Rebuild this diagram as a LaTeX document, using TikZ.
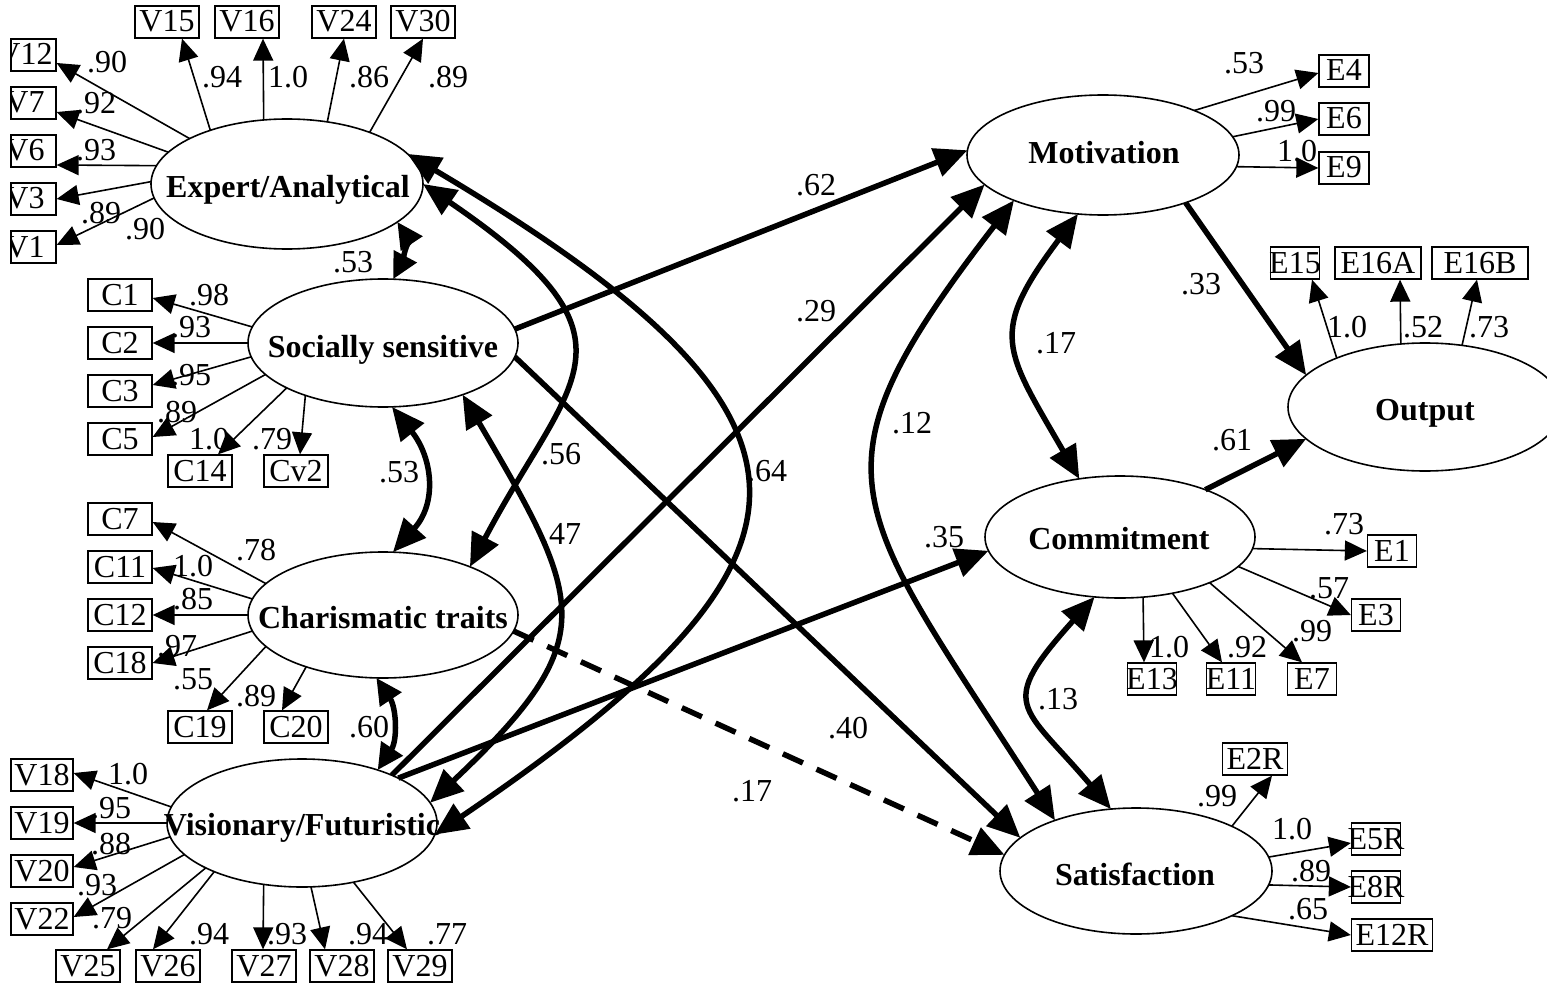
\documentclass[tikz,border=0pt]{standalone}
\usepackage{fontspec}
\setmainfont{Liberation Serif}
\usetikzlibrary{arrows.meta,shapes.geometric}
\newcommand\bx[1]{\makebox[0pt]{#1}}
\begin{document}
\begin{tikzpicture}[x=1pt,y=-1pt,
  font=\fontsize{32}{38}\selectfont,
  latent/.style={ellipse,draw,line width=1.6pt,inner sep=0pt,outer sep=0pt},
  lattxt/.style={font=\fontsize{32}{38}\selectfont\bfseries,inner sep=0pt,anchor=base},
  obs/.style={draw,line width=1.3pt,minimum width=64pt,minimum height=32pt,inner sep=0pt,text height=22pt,text depth=2pt},
  eobs/.style={obs,minimum width=49pt},
  coef/.style={inner sep=0pt},
  load/.style={line width=1.6pt,-{Triangle[length=22pt,width=20pt]}},
  regr/.style={line width=5.5pt,-{Triangle[length=33pt,width=29pt]}},
  covr/.style={line width=5.5pt,{Triangle[length=33pt,width=29pt]}-{Triangle[length=33pt,width=29pt]}},
  covs/.style={line width=5.5pt,{Triangle[length=26pt,width=25pt]}-{Triangle[length=26pt,width=25pt]}},
]
\useasboundingbox (0,0) rectangle (1547,987);

% ---------- latent variables ----------
\node[latent,minimum width=272pt,minimum height=130pt] (ea) at (287,184) {};
\node[lattxt] (eat) at (288,197) {Expert/Analytical};
\node[latent,minimum width=270pt,minimum height=128pt] (ss) at (383,343) {};
\node[lattxt] (sst) at (383,357) {Socially sensitive};
\node[latent,minimum width=270pt,minimum height=126pt] (ct) at (383,615) {};
\node[lattxt] (ctt) at (383,628) {Charismatic traits};
\node[latent,minimum width=270pt,minimum height=128pt] (vf) at (302,823) {};
\node[lattxt] (vft) at (302,835) {Visionary/Futuristic};
\node[latent,minimum width=272pt,minimum height=120pt] (mo) at (1103,155) {};
\node[lattxt] (mot) at (1104,164) {Motivation};
\node[latent,minimum width=270pt,minimum height=122pt] (co) at (1120,537) {};
\node[lattxt] (cot) at (1119,549) {Commitment};
\node[latent,minimum width=272pt,minimum height=126pt] (sa) at (1136,871) {};
\node[lattxt] (sat) at (1135,885) {Satisfaction};
\node[latent,minimum width=274pt,minimum height=128pt] (ou) at (1425,407) {};
\node[lattxt] (out) at (1425,420) {Output};

% ---------- observed: Expert ----------
\node[obs] (v15) at (167,22) {\bx{V15}};
\node[obs] (v16) at (247,22) {\bx{V16}};
\node[obs] (v24) at (344,22) {\bx{V24}};
\node[obs] (v30) at (423,22) {\bx{V30}};
\node[obs,minimum width=62pt] (v12) at (25,55) {\bx{V12}};
\node[obs,minimum width=62pt] (v7) at (25,103) {\bx{V7}};
\node[obs,minimum width=62pt] (v6) at (25,151) {\bx{V6}};
\node[obs,minimum width=62pt] (v3) at (25,199) {\bx{V3}};
\node[obs,minimum width=62pt] (v1) at (25,247) {\bx{V1}};
% ---------- observed: Socially ----------
\node[obs] (c1) at (120,295) {\bx{C1}};
\node[obs] (c2) at (120,343) {\bx{C2}};
\node[obs] (c3) at (120,391) {\bx{C3}};
\node[obs] (c5) at (120,439) {\bx{C5}};
\node[obs] (c14) at (200,471) {\bx{C14}};
\node[obs] (cv2) at (296,471) {\bx{Cv2}};
% ---------- observed: Charismatic ----------
\node[obs] (c7) at (120,519) {\bx{C7}};
\node[obs] (c11) at (120,567) {\bx{C11}};
\node[obs] (c12) at (120,615) {\bx{C12}};
\node[obs] (c18) at (120,663) {\bx{C18}};
\node[obs] (c19) at (200,727) {\bx{C19}};
\node[obs] (c20) at (296,727) {\bx{C20}};
% ---------- observed: Visionary ----------
\node[obs,minimum width=62pt] (v18) at (42,775) {\bx{V18}};
\node[obs,minimum width=62pt] (v19) at (42,823) {\bx{V19}};
\node[obs,minimum width=62pt] (v20) at (42,871) {\bx{V20}};
\node[obs,minimum width=62pt] (v22) at (42,919) {\bx{V22}};
\node[obs] (v25) at (88,966) {\bx{V25}};
\node[obs] (v26) at (168,966) {\bx{V26}};
\node[obs] (v27) at (264,966) {\bx{V27}};
\node[obs] (v28) at (342,966) {\bx{V28}};
\node[obs] (v29) at (420,966) {\bx{V29}};
% ---------- observed: outcomes ----------
\node[eobs,minimum width=50pt] (e4) at (1344,71) {\bx{E4}};
\node[eobs,minimum width=50pt] (e6) at (1344,119) {\bx{E6}};
\node[eobs,minimum width=50pt] (e9) at (1344,168) {\bx{E9}};
\node[eobs] (e15) at (1295,263) {\bx{E15}};
\node[eobs,minimum width=86pt] (e16a) at (1378,263) {\bx{E16A}};
\node[eobs,minimum width=96pt] (e16b) at (1480,263) {\bx{E16B}};
\node[eobs] (e1) at (1392,551) {\bx{E1}};
\node[eobs] (e3) at (1376,615) {\bx{E3}};
\node[eobs] (e13) at (1152,679) {\bx{E13}};
\node[eobs] (e11) at (1231,679) {\bx{E11}};
\node[eobs] (e7) at (1312,679) {\bx{E7}};
\node[eobs,minimum width=65pt] (e2r) at (1255,759) {\bx{E2R}};
\node[eobs] (e5r) at (1376,839) {\bx{E5R}};
\node[eobs] (e8r) at (1376,887) {\bx{E8R}};
\node[eobs,minimum width=81pt] (e12r) at (1392,935) {\bx{E12R}};

% ---------- loadings ----------
\draw[load] (ea.155) -- ([yshift=-8pt]v12.east);
\draw[load] (ea.165) -- ([yshift=-9pt]v7.east);
\draw[load] (ea.172.8) -- ([yshift=-14pt]v6.east);
\draw[load] (ea.179.6) -- (v3.east);
\draw[load] (ea.186.3) -- ([yshift=2pt]v1.east);
\draw[load] (ea.145.6) -- ([xshift=15pt]v15.south);
\draw[load] (ea.110.3) -- ([xshift=16pt]v16.south);
\draw[load] (ea.57.4) -- (v24.south);
\draw[load] (ea.32.3) -- (v30.south);

\draw[load] (ss.173.2) -- ([yshift=-3pt]c1.east);
\draw[load] (ss.180) -- (c2.east);
\draw[load] (ss.186.8) -- ([yshift=6pt]c3.east);
\draw[load] (ss.195.5) -- ([yshift=2pt]c5.east);
\draw[load] (ss.205.4) -- ([xshift=18pt]c14.north);
\draw[load] (ss.214.6) -- ([xshift=4pt]cv2.north);

\draw[load] (ct.165.1) -- ([yshift=-3pt]c7.east);
\draw[load] (ct.173.2) -- ([yshift=-1pt]c11.east);
\draw[load] (ct.180) -- (c12.east);
\draw[load] (ct.187.2) -- (c18.east);
\draw[load] (ct.195) -- ([xshift=7pt]c19.north);
\draw[load] (ct.214) -- ([xshift=-14pt]c20.north);

\draw[load] (vf.173.2) -- ([yshift=2pt]v18.east);
\draw[load] (vf.180) -- (v19.east);
\draw[load] (vf.186.8) -- ([yshift=4pt]v20.east);
\draw[load] (vf.195.5) -- ([yshift=2pt]v22.east);
\draw[load] (vf.205.4) -- ([xshift=19pt]v25.north);
\draw[load] (vf.209.9) -- ([xshift=-15pt]v26.north);
\draw[load] (vf.238.6) -- ([xshift=-1pt]v27.north);
\draw[load] (vf.278.9) -- ([xshift=-17pt]v28.north);
\draw[load] (vf.311.7) -- ([xshift=-13pt]v29.north);

\draw[load] (mo.26.6) -- ([yshift=-2pt]e4.west);
\draw[load] (mo.8) -- (e6.west);
\draw[load] (mo.-5) -- (e9.west);

\draw[load] (ou.151.4) -- ([xshift=17pt]e15.south);
\draw[load] (ou.111.3) -- ([xshift=22pt]e16a.south);
\draw[load] (ou.59.3) -- ([xshift=-3pt]e16b.south);

\draw[load] (co.-5.9) -- (e1.west);
\draw[load] (co.-14.6) -- (e3.west);
\draw[load] (co.291.5) -- ([xshift=-8pt]e13.north);
\draw[load] (co.-47.9) -- ([xshift=-9pt]e11.north);
\draw[load] (co.-27.8) -- ([xshift=-10pt]e7.north);

\draw[load] (sa.25) -- ([xshift=17pt]e2r.south);
\draw[load] (sa.6.3) -- ([yshift=-4pt]e5r.west);
\draw[load] (sa.-6.7) -- (e8r.west);
\draw[load] (sa.-25) -- (e12r.west);

% ---------- structural paths ----------
\draw[regr] (ss.6.3) -- (mo.178.7);
\draw[regr] (vf.28.1) -- (mo.194);
\draw[regr] (vf.25) -- (co.186.2);
\draw[regr] (ss.-6.3) -- (sa.164.7);
\draw[regr,dash pattern=on 22pt off 15pt] (ct.-7.2) -- (sa.173.3);
\draw[regr] (mo.-30.8) -- (ou.165.3);
\draw[regr] (co.29.9) -- (ou.195.1);

% ---------- covariances ----------
\draw[covs] (ea.-19.1) .. controls +(10,15) and +(8,-15) .. (ss.81.1);
\draw[covr] (ss.278.9) .. controls +(40,50) and +(45,-50) .. (ct.81.9);
\draw[covs] (ct.264.6) .. controls +(20,30) and +(20,-30) .. (vf.35.9);
\draw[covr] (ea.14.1) .. controls +(450,267) and +(408,-277) .. (vf.-5.7);
\draw[covr] (ea.0.5) .. controls +(230,157) and +(100,-190) .. (ct.29.3);
\draw[covr] (ss.-33.2) .. controls +(122,208) and +(173,-163) .. (vf.9.1);
\draw[covr] (mo.207.9) .. controls +(-213,276) and +(-205,-319) .. (sa.148.7);
\draw[covr] (mo.247.4) .. controls +(-90,120) and +(-75,-130) .. (co.125.4);
\draw[covr] (co.247.7) .. controls +(-99,110) and +(-89,-105) .. (sa.112.4);

% ---------- coefficients ----------
\node[coef] (k1) at (107,62) {.90};
\node[coef] (k2) at (96,103) {.92};
\node[coef] (k3) at (96,150) {.93};
\node[coef] (k4) at (101,213) {.89};
\node[coef] (k5) at (145,229) {.90};
\node[coef] (k6) at (222,77) {.94};
\node[coef] (k7) at (288,77) {1.0};
\node[coef] (k8) at (369,77) {.86};
\node[coef] (k9) at (448,77) {.89};
\node[coef] (k10) at (353,262) {.53};
\node[coef] (k11) at (209,295) {.98};
\node[coef] (k12) at (191,327) {.93};
\node[coef] (k13) at (191,375) {.95};
\node[coef] (k14) at (177,412) {.89};
\node[coef] (k15) at (209,439) {1.0};
\node[coef] (k16) at (272,439) {.79};
\node[coef] (k17) at (399,472) {.53};
\node[coef] (k18) at (256,550) {.78};
\node[coef] (k19) at (193,566) {1.0};
\node[coef] (k20) at (193,599) {.85};
\node[coef] (k21) at (177,646) {.97};
\node[coef] (k22) at (193,679) {.55};
\node[coef] (k23) at (256,696) {.89};
\node[coef] (k24) at (369,727) {.60};
\node[coef] (k25) at (128,774) {1.0};
\node[coef] (k26) at (111,808) {.95};
\node[coef] (k27) at (111,844) {.88};
\node[coef] (k28) at (97,885) {.93};
\node[coef] (k29) at (112,918) {.79};
\node[coef] (k30) at (209,934) {.94};
\node[coef] (k31) at (287,934) {.93};
\node[coef] (k32) at (368,934) {.94};
\node[coef] (k33) at (447,934) {.77};
\node[coef] (k34) at (816,185) {.62};
\node[coef] (k35) at (816,311) {.29};
\node[coef] (k36) at (561,454) {.56};
\node[coef] (k37) at (561,534) {.47};
\node[coef] (k38) at (767,471) {.64};
\node[coef] (k39) at (848,728) {.40};
\node[coef] (k40) at (752,791) {.17};
\node[coef] (k41) at (944,537) {.35};
\node[coef] (k42) at (912,423) {.12};
\node[coef] (k43) at (1056,343) {.17};
\node[coef] (k44) at (1058,699) {.13};
\node[coef] (k45) at (1201,284) {.33};
\node[coef] (k46) at (1232,440) {.61};
\node[coef] (k47) at (1244,63) {.53};
\node[coef] (k48) at (1276,111) {.99};
\node[coef] (k49) at (1297,151) {1.0};
\node[coef] (k50) at (1347,327) {1.0};
\node[coef] (k51) at (1423,327) {.52};
\node[coef] (k52) at (1489,327) {.73};
\node[coef] (k53) at (1344,524) {.73};
\node[coef] (k54) at (1329,588) {.57};
\node[coef] (k55) at (1312,631) {.99};
\node[coef] (k56) at (1169,647) {1.0};
\node[coef] (k57) at (1247,647) {.92};
\node[coef] (k58) at (1217,796) {.99};
\node[coef] (k59) at (1292,829) {1.0};
\node[coef] (k60) at (1311,871) {.89};
\node[coef] (k61) at (1308,909) {.65};

% ---------- left clipping of the first column ----------
\fill[white] (-20,30) rectangle (11,275);
\coordinate (cx) at (11,0);
\foreach \b in {v12,v7,v6,v3,v1}
  \draw[line width=1.3pt] (\b.north -| cx) -- (\b.south -| cx);
\end{tikzpicture}
\end{document}
